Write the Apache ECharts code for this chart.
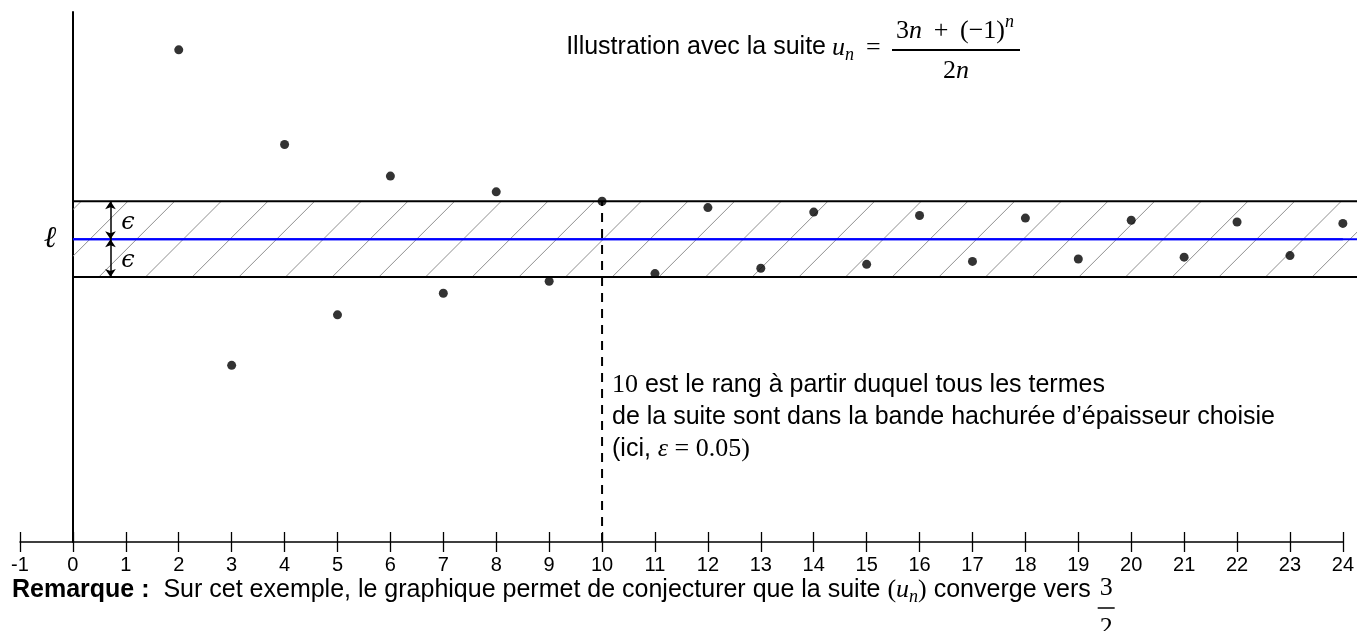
<!DOCTYPE html>
<html><head><meta charset="utf-8">
<script src="https://cdn.jsdelivr.net/npm/echarts@6/dist/echarts.min.js"></script>
<style>html,body{margin:0;padding:0;background:#fff}#c{width:1357px;height:631px}</style>
</head><body><div id="c"></div>
<script>
// ---- data ----
const ranks  = [2, 3, 4, 5, 6, 7, 8, 9, 10, 11, 12, 13, 14, 15, 16, 17, 18, 19, 20, 21, 22, 23, 24];
const values = [1.75, 1.3333, 1.625, 1.4, 1.5833, 1.4286, 1.5625, 1.4444, 1.55, 1.4545, 1.5417, 1.4615,
                1.5357, 1.4667, 1.5313, 1.4706, 1.5278, 1.4737, 1.525, 1.4762, 1.5227, 1.4783, 1.5208];
const limit = 1.5;
const epsilon = 0.05;
const rankN = 10;
const xRange = [-1, 24];
const yRange = [1.1, 1.8];
const bandX = [0, 24.4];
const arrowX = 0.71;

// ---- helpers ----
const mctx = document.createElement('canvas').getContext('2d');
function tw(t, f) { mctx.font = f; return mctx.measureText(t).width; }
const SANS = '25px "Liberation Sans"';
const BOLD = 'bold 25px "Liberation Sans"';
const MR = '26px "Liberation Serif", "DejaVu Serif"';
const MI = 'italic 26px "Liberation Serif", "DejaVu Serif"';
const SUB = 'italic 18px "Liberation Serif", "DejaVu Serif"';
const graphics = [];
function txt(x, y, t, f, align) {
  align = align || 'left';
  graphics.push({type: 'text', x: x, y: y, silent: true, z: 10,
    style: {text: t, font: f, fill: '#000', textAlign: align, textVerticalAlign: 'middle', align: align, verticalAlign: 'middle'}});
}
function seq(x, y, parts, center) {
  let total = 0; parts.forEach(p => total += tw(p[0], p[1]));
  let cx = center ? x - total / 2 : x;
  parts.forEach(p => { txt(cx, y + (p[2] || 0), p[0], p[1]); cx += tw(p[0], p[1]); });
  return cx;
}
function hline(x1, x2, y, lw) {
  graphics.push({type: 'line', silent: true, z: 10, shape: {x1: x1, y1: y, x2: x2, y2: y}, style: {stroke: '#000', lineWidth: lw}});
}

// title
txt(826, 47, 'Illustration avec la suite', SANS, 'right');
seq(832, 48, [['u', MI], ['n', SUB, 7]]);
txt(866, 48, '=', MR);
hline(892, 1020, 50, 1.8);
seq(955, 31, [['3', MR], ['n', MI], ['\u2009 + \u2009', MR], ['(\u22121)', MR], ['n', SUB, -9]], true);
seq(956, 71, [['2', MR], ['n', MI]], true);

// annotation
seq(612, 385, [['10', MR], [' est le rang \u00e0 partir duquel tous les termes', SANS]]);
seq(612, 417, [['de la suite sont dans la bande hachur\u00e9e d\u2019\u00e9paisseur choisie', SANS]]);
seq(612, 449, [['(ici, ', SANS], ['\u03b5', MI], [' = 0.05', MR], [')', MR]]);

// left labels
txt(50, 239, '\u2113', 'italic 30px "DejaVu Serif"', 'center');
txt(128, 223, '\u03f5', 'italic 24px "DejaVu Serif"', 'center');
txt(128, 261, '\u03f5', 'italic 24px "DejaVu Serif"', 'center');

// bottom remark
let bx = seq(12, 590, [['Remarque :', BOLD], ['  Sur cet exemple, le graphique permet de conjecturer que la suite ', SANS],
  ['(', MR], ['u', MI], ['n', SUB, 7], [')', MR], [' converge vers ', SANS]]);
const fw = tw('3', MR);
txt(bx + fw / 2 + 2, 588, '3', MR, 'center');
hline(bx, bx + fw + 4, 608, 1.5);
txt(bx + fw / 2 + 2, 628, '2', MR, 'center');

// hatch pattern
const P = 140, step = 140 / 3;
const hc = document.createElement('canvas'); hc.width = P; hc.height = P;
const g = hc.getContext('2d'); g.strokeStyle = '#8f8f8f'; g.lineWidth = 1;
for (let k = -1; k < 8; k++) { const s = 2.5 + k * step; g.beginPath(); g.moveTo(-10, s + 10); g.lineTo(s + 10, -10); g.stroke(); }

const chart = echarts.init(document.getElementById('c'), null, {renderer: 'canvas'});
const tickStyle = {color: '#000', width: 1.3};
chart.setOption({
  animation: false,
  grid: {left: 20, right: 14, top: 12, bottom: 89},
  xAxis: [
    {type: 'value', min: xRange[0], max: xRange[1], interval: 1,
     axisLine: {onZero: false, lineStyle: {color: '#000', width: 1.5}},
     axisTick: {length: 10, lineStyle: tickStyle},
     axisLabel: {fontSize: 20, color: '#000', margin: 13, fontFamily: '"Liberation Sans"'},
     splitLine: {show: false}},
    {type: 'value', position: 'bottom', min: xRange[0], max: xRange[1], interval: 1,
     axisLine: {show: false, onZero: false},
     axisTick: {inside: true, length: 10, lineStyle: tickStyle},
     axisLabel: {show: false}, splitLine: {show: false}}
  ],
  yAxis: {type: 'value', min: yRange[0], max: yRange[1],
    axisLine: {show: true, onZero: true, onZeroAxisIndex: 0, lineStyle: {color: '#000', width: 2}},
    axisTick: {show: false}, axisLabel: {show: false}, splitLine: {show: false}},
  graphic: {elements: graphics},
  series: [
    {type: 'custom', clip: false, silent: true, z: 1,
     data: [[bandX[0], bandX[1], limit - epsilon, limit + epsilon, limit]],
     encode: {x: [0, 1], y: [2, 3]},
     renderItem: function (params, api) {
       const p1 = api.coord([api.value(0), api.value(3)]);
       const p2 = api.coord([api.value(1), api.value(2)]);
       const pm = api.coord([api.value(0), api.value(4)]);
       return {type: 'group', children: [
         {type: 'rect', shape: {x: p1[0], y: p1[1], width: p2[0] - p1[0], height: p2[1] - p1[1]},
          style: {fill: {image: hc, repeat: 'repeat'}}},
         {type: 'line', shape: {x1: p1[0], y1: p1[1], x2: p2[0], y2: p1[1]}, style: {stroke: '#000', lineWidth: 2}},
         {type: 'line', shape: {x1: p1[0], y1: p2[1], x2: p2[0], y2: p2[1]}, style: {stroke: '#000', lineWidth: 2}},
         {type: 'line', shape: {x1: p1[0], y1: pm[1], x2: p2[0], y2: pm[1]}, style: {stroke: '#0000ff', lineWidth: 2}}
       ]};
     }},
    {type: 'line', silent: true, symbol: 'none', z: 3,
     data: [[bandX[0], limit], [xRange[1], limit]], lineStyle: {color: '#0000ff', width: 2},
     markLine: {silent: true, symbol: ['arrow', 'arrow'], symbolSize: 8, animation: false,
       lineStyle: {color: '#000', width: 1.5, type: 'solid'}, label: {show: false},
       data: [[{coord: [arrowX, limit + epsilon]}, {coord: [arrowX, limit]}],
              [{coord: [arrowX, limit]}, {coord: [arrowX, limit - epsilon]}]]}},
    {type: 'line', silent: true, symbol: 'none', z: 3,
     data: [[rankN, yRange[0]], [rankN, limit + epsilon]], lineStyle: {color: '#000', width: 2, type: [9, 7]}},
    {type: 'scatter', silent: true, z: 5, symbolSize: 9, itemStyle: {color: '#000'},
     data: ranks.map((n, i) => [n, values[i]])}
  ]
});
</script></body></html>
